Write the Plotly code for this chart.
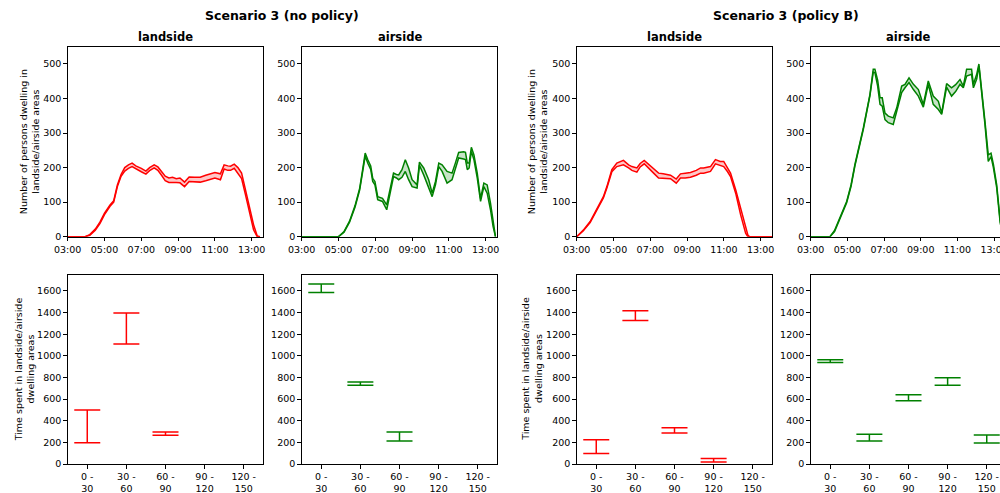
import plotly.graph_objects as go

# ---------------- data ----------------
hour_ticks = [3, 5, 7, 9, 11, 13]
hour_labels = ["03:00", "05:00", "07:00", "09:00", "11:00", "13:00"]
bin_labels = ["0 -<br>30", "30 -<br>60", "60 -<br>90", "90 -<br>120", "120 -<br>150"]

# Scenario 3 (no policy) - landside
t_land_np = [3.0, 3.95, 4.2, 4.5, 4.75, 5.0, 5.3, 5.5, 5.7, 5.9, 6.1, 6.3, 6.5, 6.7, 7.0, 7.25, 7.45,
             7.7, 7.9, 8.1, 8.3, 8.5, 8.7, 8.9, 9.1, 9.35, 9.6, 9.9, 10.2, 10.5, 10.8, 11.0, 11.3,
             11.5, 11.7, 11.85, 12.05, 12.25, 12.45, 12.65, 12.9, 13.1, 13.3, 13.45]
up_land_np = [0, 0, 6, 22, 42, 68, 92, 104, 150, 180, 200, 208, 213, 205, 198, 190, 200,
              208, 202, 190, 175, 170, 172, 168, 170, 158, 173, 172, 172, 178, 182, 186, 182,
              208, 205, 204, 210, 200, 184, 140, 85, 35, 2, 0]
lo_land_np = [0, 0, 4, 19, 38, 64, 88, 100, 145, 175, 190, 198, 203, 196, 188, 181, 191,
              199, 192, 178, 162, 157, 158, 157, 156, 145, 160, 158, 158, 162, 166, 170, 165,
              196, 192, 192, 198, 184, 168, 124, 65, 20, 0, 0]

# Scenario 3 (no policy) - airside
t_air_np = [3.0, 5.0, 5.3, 5.6, 5.9, 6.15, 6.3, 6.45, 6.6, 6.75, 6.86, 6.98, 7.13, 7.39, 7.62, 7.8,
            7.99, 8.15, 8.27, 8.45, 8.63, 8.81, 9.0, 9.27, 9.4, 9.63, 9.9, 10.09, 10.27, 10.45,
            10.63, 10.9, 11.17, 11.35, 11.53, 11.8, 11.9, 12.0, 12.1, 12.22, 12.36, 12.54, 12.72,
            12.9, 13.08, 13.26, 13.4, 13.53]
up_air_np = [0, 0, 15, 45, 90, 140, 190, 242, 222, 205, 169, 160, 116, 111, 92, 140,
             184, 180, 179, 194, 223, 199, 165, 150, 216, 199, 165, 126, 160, 213,
             208, 189, 184, 213, 244, 246, 244, 213, 213, 259, 237, 184, 111,
             155, 150, 97, 40, 0]
lo_air_np = [0, 0, 13, 42, 86, 135, 184, 233, 212, 195, 160, 150, 107, 102, 78, 130,
             174, 170, 165, 172, 189, 165, 145, 141, 207, 179, 141, 116, 150, 203,
             189, 155, 165, 199, 228, 225, 223, 194, 199, 247, 223, 170, 102,
             145, 126, 78, 30, 0]

# Scenario 3 (policy B) - landside
t_land_pb = [3.0, 3.36, 3.73, 4.0, 4.2, 4.45, 4.64, 4.91, 5.18, 5.54, 5.82, 6.0, 6.27, 6.45, 6.67,
             6.9, 7.18, 7.45, 7.7, 7.91, 8.1, 8.41, 8.64, 8.9, 9.18, 9.5, 9.73, 9.9, 10.27, 10.54,
             10.8, 10.99, 11.2, 11.36, 11.64, 11.91, 12.18, 12.3, 12.4, 13.63]
up_land_pb = [0, 19, 44, 70, 92, 116, 145, 194, 213, 221, 208, 203, 199, 212, 221,
              210, 194, 184, 182, 179, 178, 167, 182, 184, 186, 192, 199, 199, 203, 223,
              218, 218, 200, 184, 136, 78, 29, 5, 0, 0]
lo_land_pb = [0, 17, 41, 67, 88, 112, 141, 188, 203, 208, 199, 192, 187, 202, 211,
              200, 184, 170, 170, 170, 168, 155, 170, 170, 172, 178, 184, 184, 189, 211,
              206, 203, 188, 174, 126, 63, 10, 0, 0, 0]

# Scenario 3 (policy B) - airside
t_air_pb = [3.0, 4.05, 4.3, 4.51, 4.75, 4.96, 5.2, 5.41, 5.87, 6.23, 6.41, 6.5, 6.65, 6.78, 6.9, 7.05,
            7.23, 7.5, 7.69, 7.96, 8.14, 8.36, 8.6, 8.87, 9.14, 9.41, 9.68, 9.96, 10.14, 10.41,
            10.68, 10.9, 11.14, 11.32, 11.5, 11.77, 11.87, 12.05, 12.17, 12.32, 12.5, 12.68,
            12.83, 12.96, 13.14, 13.33, 13.5]
up_air_pb = [0, 0, 18, 44, 72, 102, 150, 209, 315, 412, 485, 485, 453, 402, 402, 358,
             349, 344, 373, 436, 441, 460, 441, 426, 383, 451, 407, 392, 358, 443,
             431, 440, 455, 436, 485, 485, 441, 470, 500, 431, 334, 237,
             242, 209, 150, 47, 0]
lo_air_pb = [0, 0, 15, 40, 68, 98, 146, 205, 311, 408, 476, 475, 436, 383, 378, 339,
             330, 325, 363, 417, 431, 446, 426, 407, 375, 441, 383, 368, 354, 433,
             407, 420, 441, 431, 465, 470, 431, 456, 494, 422, 325, 218,
             232, 200, 142, 40, 0]

# Time spent (min / max per bin)
bins_land_np = [0, 1, 2]
low_land_np = [197, 1110, 265]
high_land_np = [500, 1395, 295]

bins_air_np = [0, 1, 2]
low_air_np = [1585, 727, 212]
high_air_np = [1665, 757, 295]

bins_land_pb = [0, 1, 2, 3]
low_land_pb = [96, 1327, 286, 18]
high_land_pb = [225, 1416, 335, 52]

bins_air_pb = [0, 1, 2, 3, 4]
low_air_pb = [939, 212, 585, 727, 194]
high_air_pb = [963, 274, 640, 797, 268]

# ---------------- styling ----------------
RED = "#ff0000"
GREEN = "#008000"
FILL = {RED: "rgba(255,0,0,0.22)", GREEN: "rgba(0,128,0,0.22)"}
FONT = "DejaVu Sans"

W, H = 1000, 493


def px(x):
    return x / W


def py(y):
    return 1 - y / H


col_px = [(67.7, 263.3), (301.7, 497.3), (576.7, 772.3), (810.7, 1000)]
col_dom = [[px(a), min(px(b), 1.0)] for a, b in col_px]
top_dom = [py(236.7), py(46.7)]
bot_dom = [py(464.0), py(274.7)]

fig = go.Figure()


def band(t, up, lo, color, idx):
    ax = "" if idx == 1 else str(idx)
    fig.add_trace(go.Scatter(x=t, y=lo, mode="lines", line=dict(color=color, width=1.5),
                             xaxis="x" + ax, yaxis="y" + ax, showlegend=False, hoverinfo="skip"))
    fig.add_trace(go.Scatter(x=t, y=up, mode="lines", line=dict(color=color, width=1.5),
                             fill="tonexty", fillcolor=FILL[color],
                             xaxis="x" + ax, yaxis="y" + ax, showlegend=False, hoverinfo="skip"))


def bars(bins, low, high, color, idx):
    ax = str(idx)
    mid = [(a + b) / 2 for a, b in zip(low, high)]
    half = [(b - a) / 2 for a, b in zip(low, high)]
    fig.add_trace(go.Scatter(x=bins, y=mid, mode="markers", marker=dict(size=1, opacity=0),
                             error_y=dict(type="data", array=half, symmetric=True,
                                          color=color, thickness=1.5, width=13),
                             xaxis="x" + ax, yaxis="y" + ax, showlegend=False, hoverinfo="skip"))


band(t_land_np, up_land_np, lo_land_np, RED, 1)
band(t_air_np, up_air_np, lo_air_np, GREEN, 2)
band(t_land_pb, up_land_pb, lo_land_pb, RED, 3)
band(t_air_pb, up_air_pb, lo_air_pb, GREEN, 4)
bars(bins_land_np, low_land_np, high_land_np, RED, 5)
bars(bins_air_np, low_air_np, high_air_np, GREEN, 6)
bars(bins_land_pb, low_land_pb, high_land_pb, RED, 7)
bars(bins_air_pb, low_air_pb, high_air_pb, GREEN, 8)

axis_common = dict(showgrid=False, zeroline=False, showline=True, linecolor="black", linewidth=1,
                   ticks="outside", ticklen=3.5, tickwidth=1, tickcolor="black", automargin=False,
                   ticklabeloverflow="allow",
                   tickfont=dict(family=FONT, size=9.5, color="black"))

layout = {}
for i in range(8):
    idx = i + 1
    col = i % 4
    top = i < 4
    k = "" if idx == 1 else str(idx)
    last = col == 3
    if top:
        xr = [3, 13.32] if last else [3, 13.63]
        xa = dict(domain=col_dom[col], anchor="y" + k, range=xr, tickmode="array",
                  tickvals=hour_ticks, ticktext=hour_labels, mirror=True, **axis_common)
        ya = dict(domain=top_dom, anchor="x" + k, range=[0, 550], tickmode="array",
                  tickvals=[0, 100, 200, 300, 400, 500], mirror=not last, **axis_common)
    else:
        xr = [-0.5, 4.339] if last else [-0.5, 4.5]
        xa = dict(domain=col_dom[col], anchor="y" + k, range=xr, tickmode="array",
                  tickvals=[0, 1, 2, 3, 4], ticktext=bin_labels, mirror=True, **axis_common)
        ya = dict(domain=bot_dom, anchor="x" + k, range=[0, 1750], tickmode="array",
                  tickvals=[0, 200, 400, 600, 800, 1000, 1200, 1400, 1600], mirror=not last,
                  **axis_common)
    layout["xaxis" + k] = xa
    layout["yaxis" + k] = ya

annotations = []


def text(x, y, s, size, bold=False, angle=0):
    annotations.append(dict(x=px(x), y=py(y), xref="paper", yref="paper",
                            text=("<b>%s</b>" % s) if bold else s,
                            showarrow=False, xanchor="center", yanchor="middle", textangle=angle,
                            font=dict(family=FONT, size=size, color="black")))


text(281.7, 15, "Scenario 3 (no policy)", 12.5, bold=True)
text(785.8, 15, "Scenario 3 (policy B)", 12.5, bold=True)
for xc, name in zip([165.5, 399.5, 674.5, 908.4], ["landside", "airside", "landside", "airside"]):
    text(xc, 37, name, 11.5, bold=True)
ylab_top = "Number of persons dwelling in<br>landside/airside areas"
ylab_bot = "Time spent in landside/airside<br>dwelling areas"
text(29.5, 141.7, ylab_top, 9.5, angle=-90)
text(537.5, 141.7, ylab_top, 9.5, angle=-90)
text(24, 369.3, ylab_bot, 9.5, angle=-90)
text(531.5, 369.3, ylab_bot, 9.5, angle=-90)

fig.update_layout(width=W, height=H, margin=dict(l=0, r=0, t=0, b=0, autoexpand=False),
                  plot_bgcolor="white", paper_bgcolor="white", annotations=annotations,
                  font=dict(family=FONT), hovermode=False, **layout)

fig.write_html("out.html", config={"displayModeBar": False},
               post_script="document.body.style.margin='0';document.body.style.overflow='hidden';")
